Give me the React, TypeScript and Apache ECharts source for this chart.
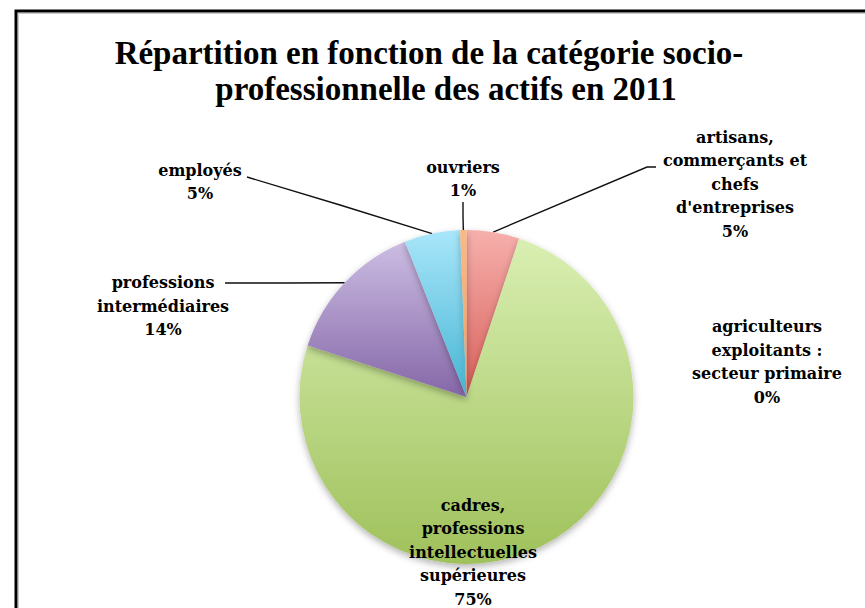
import React, { useEffect, useRef } from "react";
import * as echarts from "echarts";

const categories = [
  "artisans,\ncommerçants et\nchefs\nd'entreprises",
  "agriculteurs\nexploitants :\nsecteur primaire",
  "cadres,\nprofessions\nintellectuelles\nsupérieures",
  "professions\nintermédiaires",
  "employés",
  "ouvriers",
];
const values = [5.1, 0, 74.8, 14.0, 5.4, 0.6];
const titleLines = [
  "Répartition en fonction de la catégorie socio-",
  "professionnelle des actifs en 2011",
];

// styles
const topColors = ["#f6b0ac", "#d4c0e0", "#d9efb2", "#ccbde3", "#a9e6fa", "#fcb983"];
const bottomColors = ["#d95f59", "#8f74b0", "#9fc15b", "#8567a8", "#46b5d3", "#f5a05c"];
// label layout: centre of label block, optional guide end points
const labelPos: { x: number; y: number; line?: number[][] }[] = [
  { x: 735, y: 184, line: [[647, 167], [656, 167]] },
  { x: 767, y: 362 },
  { x: 473, y: 552 },
  { x: 163, y: 306, line: [[285, 283], [225, 283]] },
  { x: 200, y: 182, line: [[340, 205], [247, 177]] },
  { x: 463, y: 179, line: [[463, 216], [463, 202]] },
];

const FONT = "'DejaVu Serif', serif";
const TITLE_FONT = "'Liberation Serif', serif";

export default function App() {
  const ref = useRef<HTMLDivElement>(null);
  useEffect(() => {
    if (!ref.current) return;
    const chart = echarts.init(ref.current, null, { renderer: "svg" });
    const data = categories.map((name, i) => ({
      name,
      value: values[i],
      itemStyle: {
        color: new echarts.graphic.LinearGradient(0, 0, 0, 1, [
          { offset: 0, color: topColors[i] },
          { offset: 1, color: bottomColors[i] },
        ]),
      },
      labelLine: { show: !!labelPos[i].line },
    }));
    chart.setOption({
      animation: false,
      backgroundColor: "#ffffff",
      title: [
        {
          text: titleLines[0],
          left: 424,
          top: 31,
          textAlign: "center",
          textStyle: { fontFamily: TITLE_FONT, fontSize: 33, fontWeight: "bold", color: "#000" },
        },
        {
          text: titleLines[1],
          left: 441,
          top: 67,
          textAlign: "center",
          textStyle: { fontFamily: TITLE_FONT, fontSize: 33, fontWeight: "bold", color: "#000" },
        },
      ],
      graphic: [
        {
          type: "rect",
          shape: { x: 16, y: 11, width: 900, height: 700 },
          style: { fill: "none", stroke: "#000", lineWidth: 3 },
          silent: true,
        },
        {
          type: "rect",
          shape: { x: 18.5, y: 13.5, width: 900, height: 700 },
          style: { fill: "none", stroke: "#c8c8c8", lineWidth: 1 },
          silent: true,
        },
      ],
      series: [
        {
          type: "pie",
          center: [466.5, 397],
          radius: [0, 167],
          startAngle: 90,
          clockwise: true,
          avoidLabelOverlap: false,
          minAngle: 0,
          itemStyle: {
            borderWidth: 0,
            shadowBlur: 7,
            shadowOffsetY: 3,
            shadowColor: "rgba(0,0,0,0.3)",
          },
          label: {
            show: true,
            position: "outside",
            formatter: (p: any) => p.name + "\n" + Math.round(p.percent) + "%",
            fontFamily: FONT,
            fontWeight: "bold",
            fontSize: 16,
            lineHeight: 23.5,
            color: "#000",
            align: "center",
          },
          labelLine: { show: true, lineStyle: { color: "#111", width: 1.4 } },
          labelLayout: (params: any) => {
            const cfg = labelPos[params.dataIndex];
            const out: any = { x: cfg.x, y: cfg.y, align: "center", verticalAlign: "middle" };
            if (cfg.line && params.labelLinePoints) {
              const a = params.labelLinePoints[0];
              out.labelLinePoints = [a, cfg.line[0], cfg.line[1]];
            }
            return out;
          },
          data,
        },
      ],
    });
    return () => chart.dispose();
  }, []);
  return (
    <div
      ref={ref}
      style={{ position: "absolute", left: 0, top: 0, width: 865, height: 608 }}
    />
  );
}
